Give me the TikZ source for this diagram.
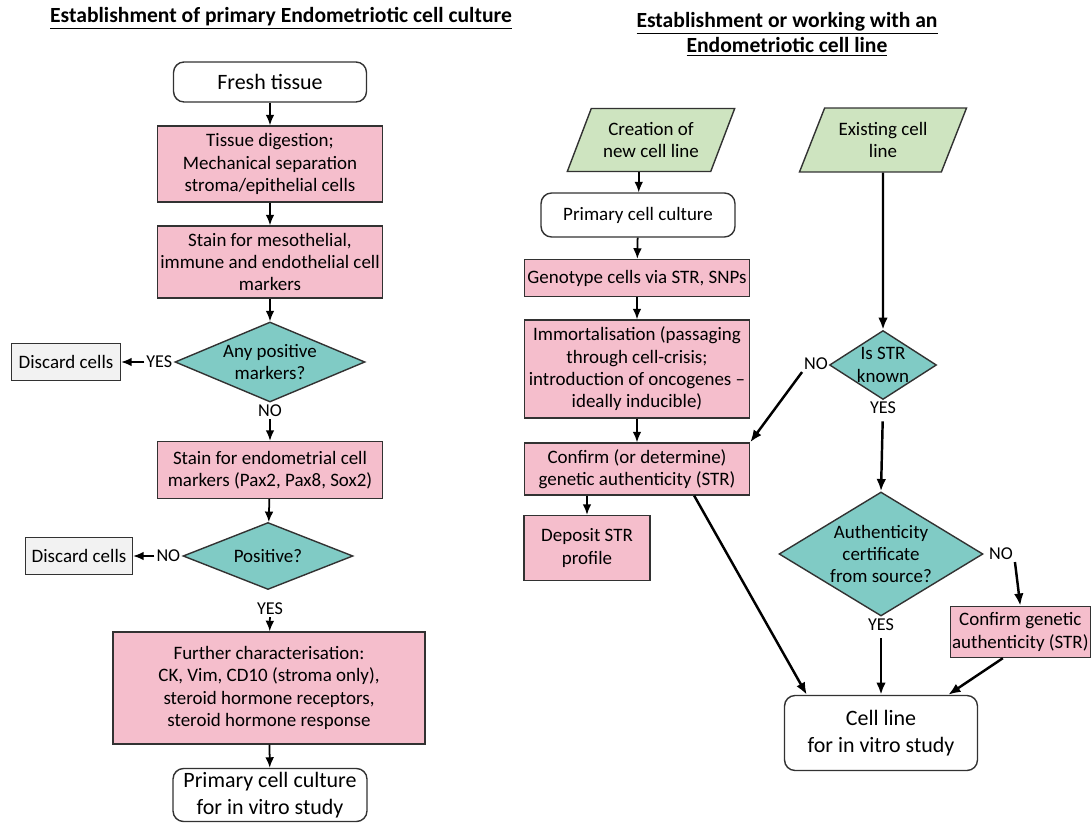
\documentclass[tikz,border=0pt]{standalone}
\usepackage{fontspec}
\setmainfont{Carlito}
\usepackage{tikz}
\usetikzlibrary{calc,shapes.geometric,arrows.meta}

\definecolor{boxpink}{RGB}{245,190,204}
\definecolor{boxteal}{RGB}{128,203,197}
\definecolor{boxgreen}{RGB}{206,228,192}
\definecolor{boxgrey}{RGB}{242,242,242}
\definecolor{boxline}{RGB}{50,50,50}

\begin{document}
\begin{tikzpicture}[x=0.02cm, y=-0.02cm]
        % Column centres, in pixels of the original figure
        \pgfmathsetmacro{\colA}{270}
        \pgfmathsetmacro{\colB}{637}
        \pgfmathsetmacro{\colC}{883}

        % Box, decision and connector looks
        \tikzset{
            base/.style={draw=boxline, line width=0.8pt, align=center, inner sep=1pt,
                font=\fontsize{10.8}{12.7}\selectfont},
            procbox/.style={base, fill=boxpink},
            endbox/.style={base, rounded corners=6pt, fill=white,
                font=\fontsize{12.5}{15.3}\selectfont},
            discbox/.style={base, fill=boxgrey},
            decision/.style={base, diamond, fill=boxteal, inner sep=0pt},
            inputbox/.style={base, trapezium, trapezium left angle=63,
                trapezium right angle=117, trapezium stretches=true, fill=boxgreen},
            answer/.style={inner sep=1pt, font=\fontsize{10.3}{12.6}\selectfont},
            heading/.style={align=center, font=\bfseries\fontsize{12.3}{14.4}\selectfont},
            arr/.style={-{Latex[length=6pt,width=5pt]}, line width=1pt},
            longarr/.style={-{Latex[length=7pt,width=5.5pt]}, line width=1.4pt},
        }

        \useasboundingbox (0,0) rectangle (1092,824);

        % Left chart: primary culture
        \node[heading] (titleA) at (281,18)
            {\underline{Establishment of primary Endometriotic cell culture}};
        \node[endbox, minimum width=3.86cm, minimum height=0.8cm] (fresh) at (\colA,82)
            {Fresh tissue};
        \node[procbox, minimum width=4.5cm, minimum height=1.52cm] (digest) at (\colA,164)
            {Tissue digestion;\\Mechanical separation\\stroma/epithelial cells};
        \node[procbox, minimum width=4.5cm, minimum height=1.44cm] (stainA) at (\colA,262)
            {Stain for mesothelial,\\immune and endothelial cell\\markers};
        \node[decision, aspect=2.4, minimum width=3.8cm, minimum height=1.6cm] (anypos) at (\colA,362)
            {Any positive\\markers?};
        \node[discbox, minimum width=2.18cm, minimum height=0.74cm] (discA) at (66,362)
            {Discard cells};
        \node[answer, anchor=east] (yesA) at (anypos.west) {YES};
        \node[answer] (noA) at (\colA,411) {NO};
        \node[procbox, minimum width=4.5cm, minimum height=1.14cm] (stainB) at (\colA,470)
            {Stain for endometrial cell\\markers (Pax2, Pax8, Sox2)};
        \node[decision, aspect=2.5, minimum width=3.4cm, minimum height=1.34cm] (posq) at (268,556)
            {Positive?};
        \node[discbox, minimum width=2.14cm, minimum height=0.74cm] (discB) at (79,556)
            {Discard cells};
        \node[answer, anchor=east] (noB) at (posq.west) {NO};
        \node[answer] (yesB) at (\colA,609) {YES};
        \node[procbox, minimum width=6.24cm, minimum height=2.24cm] (further) at (269,688)
            {Further characterisation:\\CK, Vim, CD10 (stroma only),\\steroid hormone receptors,\\steroid hormone response};
        \node[endbox, minimum width=3.88cm, minimum height=1.06cm] (primA) at (\colA,795)
            {Primary cell culture\\for in vitro study};

        % Right chart: cell lines
        \node[heading] (titleB) at (787,34)
            {\underline{Establishment or working with an}\\\underline{Endometriotic cell line}};
        \node[inputbox, minimum width=3.36cm, minimum height=1.26cm] (creation) at (651,140)
            {Creation of\\new cell line};
        \node[inputbox, minimum width=3.36cm, minimum height=1.28cm] (existing) at (\colC,140)
            {Existing cell\\line};
        \node[endbox, font=\fontsize{10.8}{13}\selectfont, minimum width=3.88cm, minimum height=0.88cm]
            (primB) at (638,215) {Primary cell culture};
        \node[procbox, minimum width=4.5cm, minimum height=0.74cm] (geno) at (\colB,278)
            {Genotype cells via STR, SNPs};
        \node[procbox, minimum width=4.5cm, minimum height=1.96cm] (immort) at (\colB,369)
            {Immortalisation (passaging\\through cell-crisis;\\introduction of oncogenes --\\ideally inducible)};
        \node[procbox, minimum width=4.5cm, minimum height=1.04cm] (confA) at (\colB,469)
            {Confirm (or determine)\\genetic authenticity (STR)};
        \node[procbox, minimum width=2.52cm, minimum height=1.3cm] (deposit) at (587,548)
            {Deposit STR\\profile};
        \node[decision, aspect=1.55, minimum width=2.14cm, minimum height=1.38cm] (strknown) at (\colC,365)
            {Is STR\\known};
        \node[answer] (noC) at (816,364) {NO};
        \node[answer] (yesC) at (\colC,408) {YES};
        \node[decision, aspect=1.65, minimum width=4.08cm, minimum height=2.48cm] (authcert) at (881,554)
            {Authenticity\\certificate\\from source?};
        \node[answer] (noD) at (1001,554) {NO};
        \node[answer] (yesD) at (881,625) {YES};
        \node[procbox, anchor=east, minimum width=2.7cm, minimum height=1.02cm] (confB) at (1091,632)
            {Confirm genetic\\authenticity (STR)};
        \node[endbox, minimum width=3.86cm, minimum height=1.5cm] (cellline) at (881,733)
            {Cell line\\for in vitro study};

        % Short arrows down the columns
        \begin{scope}[arr]
            \draw (fresh) -- (digest);
            \draw (digest) -- (stainA);
            \draw (stainA) -- (anypos);
            \draw (yesA) -- (discA);
            \draw (noA) -- (stainB);
            \draw (stainB) -- (posq);
            \draw (noB) -- (discB);
            \draw (yesB) -- (further);
            \draw (further) -- (primA);

            \coordinate (creationfoot) at ($(creation.bottom left corner)!0.5!(creation.bottom right corner)$);
            \draw (creationfoot) -- (creationfoot |- primB.north);
            \draw (primB) -- (geno);
            \draw (geno) -- (immort);
            \draw (immort) -- (confA);
            \draw (deposit.north |- confA.south) -- (deposit.north);
        \end{scope}

        % Long arrows towards the cell line
        \begin{scope}[longarr]
            \draw (existing.south) -- (strknown.north);
            \draw (noC.south west) -- (confA.north east);
            \draw[shorten <=3pt] (yesC) -- (authcert.north);
            \draw (noD.south east) -- (confB.north);
            \draw[shorten <=3pt] (yesD) -- (cellline.north);
            \draw ([xshift=-1.12cm]confA.south east) -- ([xshift=0.46cm]cellline.north west);
            \draw ([xshift=-0.35cm]confB.south) -- ([xshift=-0.6cm]cellline.north east);
        \end{scope}
\end{tikzpicture}
\end{document}
